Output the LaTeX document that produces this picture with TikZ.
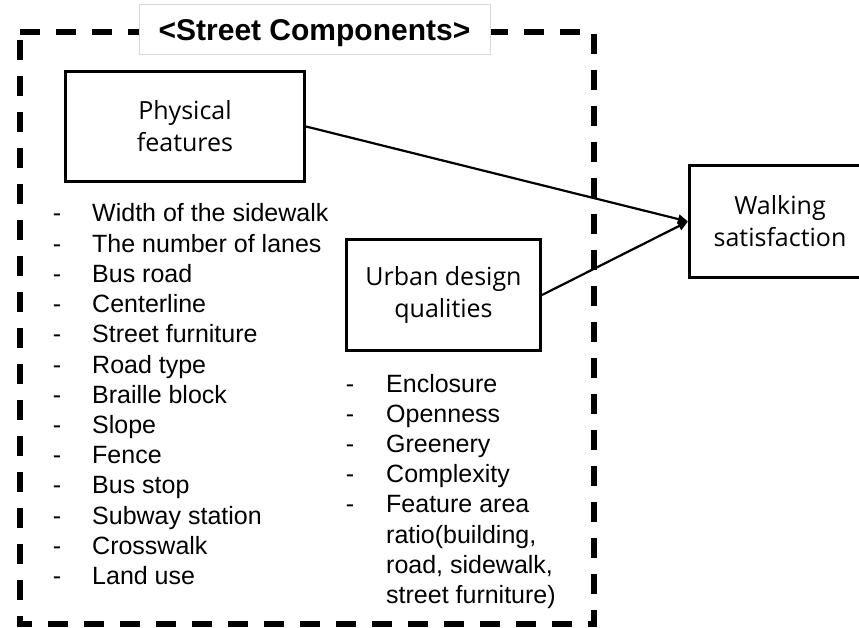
\documentclass[tikz,border=0pt]{standalone}
\usepackage{fontspec}
\setmainfont{Liberation Sans}
\newfontfamily\boxfont{Open Sans}
\usetikzlibrary{arrows.meta}
\begin{document}
\begin{tikzpicture}[x=1pt,y=-1pt,
  listtext/.style={anchor=base west, inner sep=0pt, font=\fontsize{25}{30}\selectfont},
  bullet/.style={anchor=base, inner sep=0pt, font=\fontsize{25}{30}\selectfont},
  concept/.style={draw, line width=3pt, align=center, inner sep=0pt,
    font=\boxfont\fontsize{25}{32}\selectfont},
  link/.style={line width=2.2pt, -{Triangle[length=10pt,width=9pt]}},
  frame/.style={line width=6pt, dash pattern=on 20pt off 16pt},
  titlebox/.style={draw=black!15, line width=1pt, fill=white, inner sep=0pt,
    text height=22pt, text depth=0pt,
    font=\bfseries\fontsize{30}{36}\selectfont},
]
\useasboundingbox (0,0) rectangle (859,628);
\clip (0,0) rectangle (859,628);
\fill[white] (0,0) rectangle (859,628);

% dashed enclosure of the street components
\draw[frame] (20,32) -- (594,32) -- (594,624) -- (20,624) -- cycle;
\node[titlebox, minimum width=351pt, minimum height=50pt] (title) at (314.5,30) {<Street Components>};

% concept boxes
\node[concept, minimum width=239pt, minimum height=110pt] (phys) at (185,126.5) {Physical\\features};
\node[concept, minimum width=194pt, minimum height=111pt] (urban) at (443.5,295) {Urban design\\qualities};
\node[concept, minimum width=181pt, minimum height=112pt] (walk) at (780,221.5) {Walking\\satisfaction};

% relations
\draw[link] (phys.east) -- (walk.west);
\draw[link] (urban.east) -- (walk.west);

% physical feature items
\foreach \t [count=\i from 0] in {Width of the sidewalk, The number of lanes, Bus road,
    Centerline, Street furniture, Road type, Braille block, Slope, Fence, Bus stop,
    Subway station, Crosswalk, Land use} {
  \pgfmathsetmacro\yy{222+30.2*\i}
  \node[bullet] (pd\i) at (57,\yy) {-};
  \node[listtext] (pf\i) at (92,\yy) {\t};
}

% urban design quality items
\foreach \t [count=\i from 0] in {Enclosure, Openness, Greenery, Complexity, Feature area,
    {ratio(building,}, {road, sidewalk,}, {street furniture)}} {
  \pgfmathsetmacro\yy{392+30.2*\i}
  \node[listtext] (uq\i) at (386,\yy) {\t};
}
\foreach \i in {0,...,4} {
  \pgfmathsetmacro\yy{392+30.2*\i}
  \node[bullet] (ud\i) at (350,\yy) {-};
}
\end{tikzpicture}
\end{document}
